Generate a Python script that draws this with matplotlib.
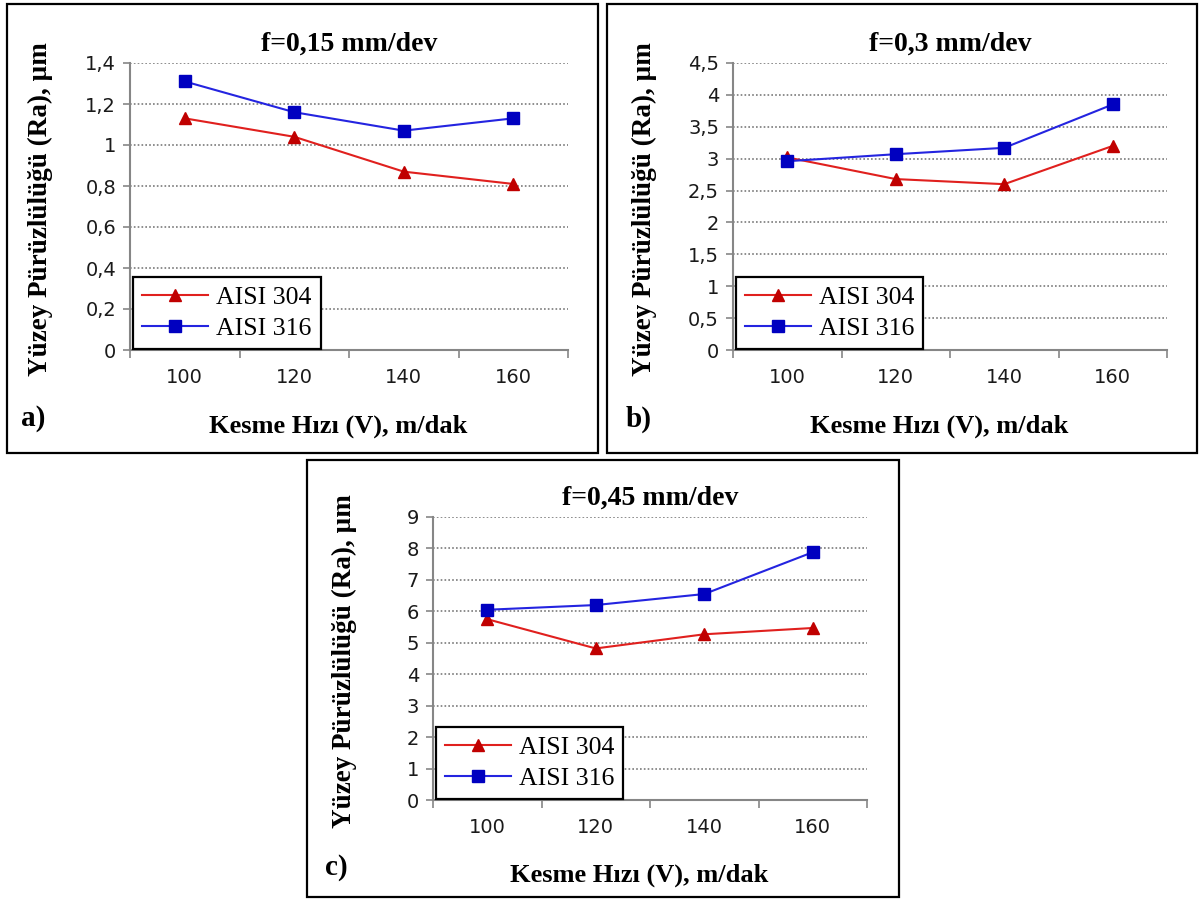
import matplotlib.pyplot as plt
from matplotlib.patches import Rectangle
from matplotlib.ticker import MultipleLocator, FuncFormatter

# cutting speed categories (m/dak)
speeds = ["100", "120", "140", "160"]

# surface roughness Ra (um)
ra_304_f015 = [1.13, 1.04, 0.87, 0.81]
ra_316_f015 = [1.31, 1.16, 1.07, 1.13]

ra_304_f03 = [3.02, 2.68, 2.60, 3.20]
ra_316_f03 = [2.96, 3.07, 3.17, 3.85]

ra_304_f045 = [5.75, 4.82, 5.27, 5.47]
ra_316_f045 = [6.05, 6.20, 6.55, 7.88]

titles = ["f=0,15 mm/dev", "f=0,3 mm/dev", "f=0,45 mm/dev"]
letters = ["a)", "b)", "c)"]
y_max = [1.4, 4.5, 9]
y_step = [0.2, 0.5, 1]

red_line = "#e0201e"
red_mark = "#c00000"
blue_line = "#2424e0"
blue_mark = "#0000c0"
axis_gray = "#868686"

serif = "Liberation Serif"
sans = "DejaVu Sans"

W, H = 1201, 900


def px_axes(left, right, top, bottom):
    return [left / W, 1 - bottom / H, (right - left) / W, (bottom - top) / H]


def comma(v, pos):
    s = ("%.1f" % v).rstrip("0").rstrip(".")
    return s.replace(".", ",")


def panel(fig, rect, s304, s316, title, letter, ymax, step):
    ax = fig.add_axes(rect)
    x = range(1, len(speeds) + 1)
    ax.plot(x, s304, color=red_line, lw=1.5, marker="^", ms=9,
            mfc=red_mark, mec=red_mark, label="AISI 304", zorder=3)
    ax.plot(x, s316, color=blue_line, lw=1.5, marker="s", ms=8,
            mfc=blue_mark, mec=blue_mark, label="AISI 316", zorder=3)

    ax.set_xlim(0.5, len(speeds) + 0.5)
    ax.set_ylim(0, ymax)
    ax.set_xticks(list(x))
    ax.set_xticklabels(speeds)
    ax.set_xticks([i + 0.5 for i in range(len(speeds) + 1)], minor=True)
    ax.tick_params(axis="x", which="major", length=0, pad=13,
                   labelsize=14, labelcolor="#1a1a1a")
    ax.tick_params(axis="x", which="minor", length=6, width=1.2,
                   color=axis_gray, direction="out")
    ax.yaxis.set_major_locator(MultipleLocator(step))
    ax.yaxis.set_major_formatter(FuncFormatter(comma))
    ax.tick_params(axis="y", length=5, width=1.2, color=axis_gray,
                   labelsize=14, labelcolor="#1a1a1a", pad=5)
    for lab in ax.get_xticklabels() + ax.get_yticklabels():
        lab.set_fontfamily(sans)

    ax.grid(axis="y", color="#7a7a7a", linestyle=(0, (1, 1.3)), lw=1.2)
    ax.set_axisbelow(True)
    for side in ("top", "right"):
        ax.spines[side].set_visible(False)
    for side in ("left", "bottom"):
        ax.spines[side].set_color(axis_gray)
        ax.spines[side].set_linewidth(1.5)

    ax.set_title(title, fontfamily=serif, fontweight="bold", fontsize=20, pad=9)
    ax.set_xlabel("Kesme Hızı (V), m/dak", fontfamily=serif,
                  fontweight="bold", fontsize=19)
    ax.xaxis.set_label_coords(0.475, -0.225)
    ax.set_ylabel("Yüzey Pürüzlülüğü (Ra), µm", fontfamily=serif,
                  fontweight="bold", fontsize=19.5)
    ax.yaxis.set_label_coords(-0.175, 0.49)
    ax.text(-0.248, -0.24, letter, transform=ax.transAxes, fontfamily=serif,
            fontweight="bold", fontsize=21, ha="left", va="center")

    leg = ax.legend(loc="lower left", bbox_to_anchor=(0.006, 0.005),
                    prop={"family": serif, "size": 18.5}, frameon=True,
                    fancybox=False, edgecolor="black", framealpha=1,
                    handlelength=2.6, handletextpad=0.3, borderpad=0.35,
                    labelspacing=0.3, borderaxespad=0)
    leg.get_frame().set_linewidth(1.6)
    return ax


fig = plt.figure(figsize=(W / 100, H / 100), dpi=100)

# panel frames
for (l, r, t, b) in [(7, 598, 4, 453), (607, 1197, 4, 453), (307, 899, 460, 897)]:
    fig.patches.append(Rectangle((l / W, 1 - b / H), (r - l) / W, (b - t) / H,
                                 transform=fig.transFigure, fill=False,
                                 edgecolor="black", lw=1.6))

panel(fig, px_axes(130, 568, 63, 350), ra_304_f015, ra_316_f015,
      titles[0], letters[0], y_max[0], y_step[0])
panel(fig, px_axes(733, 1167, 63, 350), ra_304_f03, ra_316_f03,
      titles[1], letters[1], y_max[1], y_step[1])
panel(fig, px_axes(433, 867, 517, 800), ra_304_f045, ra_316_f045,
      titles[2], letters[2], y_max[2], y_step[2])

fig.savefig("out.png", dpi=100)
